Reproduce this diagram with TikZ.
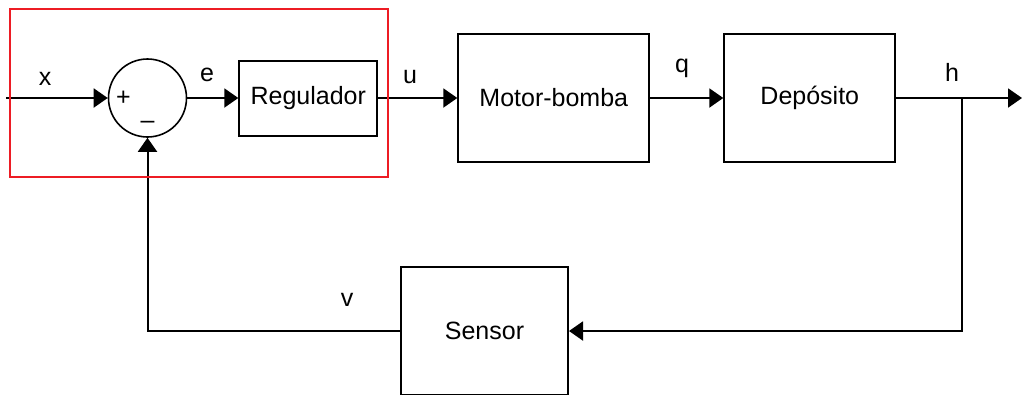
\documentclass[tikz,border=0pt]{standalone}
\usepackage{fontspec}
\setmainfont{Liberation Sans}
\usetikzlibrary{arrows.meta,positioning,calc}
\definecolor{frame}{RGB}{237,28,36}

\begin{document}
\begin{tikzpicture}[
  x=1pt, y=-1pt,
  blk/.style={draw, line width=2pt, inner sep=0pt, minimum height=128pt, font=\fontsize{25}{29}\selectfont},
  sum/.style={draw, circle, line width=1.6pt, inner sep=0pt, minimum size=78pt},
  lbl/.style={font=\fontsize{25}{29}\selectfont, inner sep=0pt},
  sig/.style={-{Triangle[length=14pt, width=19pt]}, line width=2pt},
]
\useasboundingbox (0,0) rectangle (1024,394);

\node[sum] (sum) at (147.5,98) {};
\node[lbl] at ([xshift=-24pt]sum.center) {+};
\node[lbl] at ([yshift=-27pt]sum.center) {--};

\node[blk, minimum width=138pt, minimum height=75pt, right=51pt of sum] (reg) {Regulador};
\node[blk, minimum width=191pt, right=79pt of reg] (motor) {Motor-bomba};
\node[blk, minimum width=171pt, right=73pt of motor] (dep) {Depósito};
\node[blk, minimum width=167pt] (sensor) at (484.5,331) {Sensor};

\coordinate (in) at (6,98);
\coordinate (out) at (1022,98);
\coordinate (branch) at (962,98);

\draw[sig] (in) -- (sum.west);
\draw[sig] (sum.east) -- (reg.west);
\draw[sig] (reg.east) -- (motor.west);
\draw[sig] (motor.east) -- (dep.west);
\draw[sig] (dep.east) -- (out);
\draw[sig] (branch) |- (sensor.east);
\draw[sig] (sensor.west) -| (sum.south);

\node[lbl] at (45,79) {x};
\node[lbl] at (207,75) {e};
\node[lbl] at (410,77) {u};
\node[lbl] at (682,68) {q};
\node[lbl] at (952,72) {h};
\node[lbl] at (347,300) {v};

\draw[frame, line width=2pt] (10,9) rectangle (388,177);

\end{tikzpicture}
\end{document}
